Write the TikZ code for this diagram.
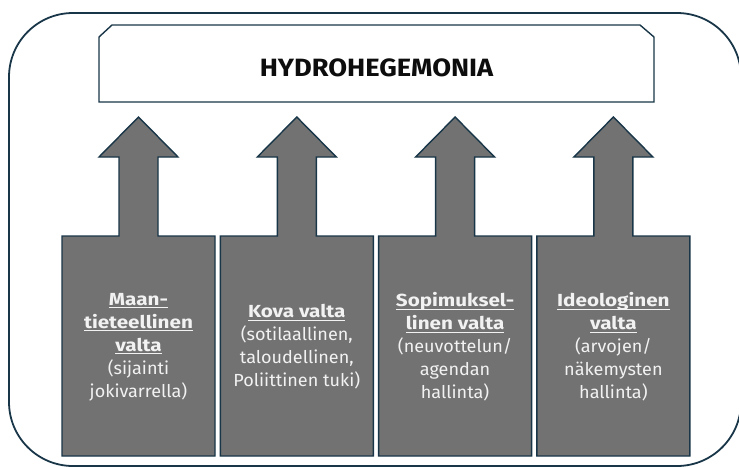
\documentclass[tikz,border=0pt]{standalone}
\usepackage{fontspec}
\setmainfont{Fira Sans}
\newfontface\bxfont[FakeStretch=1.18]{Fira Sans Bold}
\newfontface\ttlfont[FakeStretch=1.09]{Fira Sans Bold}
\newfontface\rgfont[FakeStretch=1.03]{Fira Sans}
\usetikzlibrary{calc}
\definecolor{edgec}{RGB}{24,54,72}
\definecolor{boxfill}{RGB}{114,114,114}
\definecolor{boxtext}{RGB}{242,242,242}
\newcommand\myul[1]{\leavevmode\setbox0\hbox{\bxfont #1}\rlap{\rule[-2.8pt]{\wd0}{1.1pt}}\box0}
\tikzset{
  outerframe/.style={draw=edgec, line width=1.8pt},
  titleframe/.style={draw=edgec, line width=1.4pt, fill=white},
  calloutshape/.style={draw=edgec, line width=1.4pt, fill=boxfill, line join=miter},
  boxlabel/.style={text=boxtext, align=center, inner sep=0pt, font=\fontsize{17.5}{23}\rgfont},
  titlelabel/.style={text=black!95, inner sep=0pt, font=\fontsize{25}{28}\ttlfont},
  pics/upcallout/.style={code={
    \path[calloutshape] (-76.5,456) -- (-76.5,236) -- (-19.5,236) -- (-19.5,157) -- (-39.5,157)
      -- (0,117) -- (39.5,157) -- (19.5,157) -- (19.5,236) -- (76.5,236) -- (76.5,456) -- cycle;
  }}
}
\begin{document}
\begin{tikzpicture}[x=1pt,y=-1pt]
\useasboundingbox (0,0) rectangle (739,466);
\begin{scope}
\clip (0,0) rectangle (739,466);
\draw[outerframe, rounded corners=64pt] (9,13) rectangle (741,466);
\end{scope}
\draw[titleframe] (99,102) -- (99,37) -- (112,25) -- (640,25) -- (654,37) -- (654,102) -- cycle;
\node[titlelabel] (title) at (376.5,67.5) {HYDROHEGEMONIA};
\pic at (138.5,0) {upcallout};
\pic at (296.8,0) {upcallout};
\pic at (455.1,0) {upcallout};
\pic at (613.4,0) {upcallout};
\node[boxlabel] (geo) at (138.5,347) {\myul{Maan-}\\\myul{tieteellinen}\\\myul{valta}\\(sijainti\\jokivarrella)};
\node[boxlabel] (hard) at (296.8,347) {\myul{Kova valta}\\(sotilaallinen,\\taloudellinen,\\Poliittinen tuki)};
\node[boxlabel] (barg) at (455.1,347) {\myul{Sopimuksel-}\\\myul{linen valta}\\(neuvottelun/\\agendan\\hallinta)};
\node[boxlabel] (ideo) at (613.4,347) {\myul{Ideologinen}\\\myul{valta}\\(arvojen/\\näkemysten\\hallinta)};
\end{tikzpicture}
\end{document}
